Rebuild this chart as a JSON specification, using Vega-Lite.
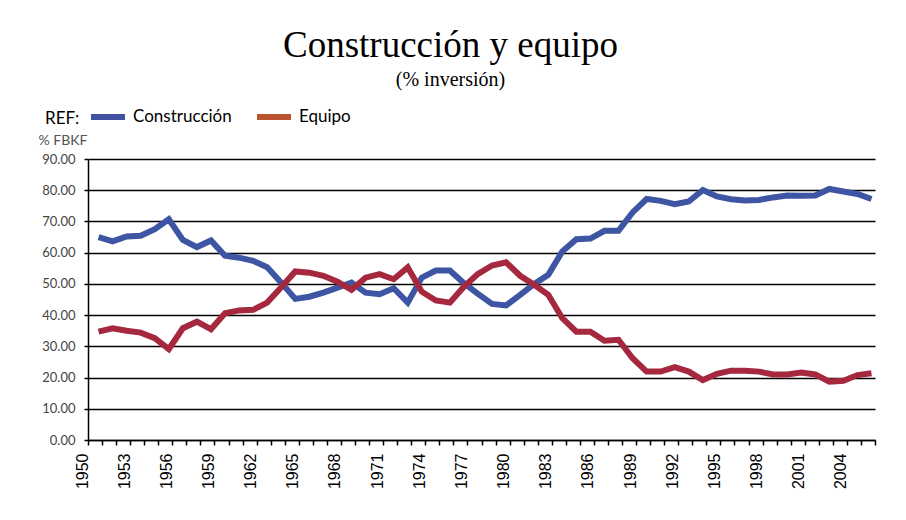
{
  "$schema": "https://vega.github.io/schema/vega-lite/v6.json",
  "width": 787,
  "height": 281,
  "autosize": {"type": "none"},
  "padding": {"left": 88, "top": 159, "right": 31, "bottom": 80},
  "background": "white",
  "title": {
    "text": "Construcción y equipo",
    "subtitle": "(% inversión)",
    "font": "Liberation Serif",
    "fontSize": 37,
    "fontWeight": "normal",
    "color": "#000",
    "subtitleFont": "Liberation Serif",
    "subtitleFontSize": 20,
    "subtitleColor": "#000",
    "subtitlePadding": 5,
    "anchor": "middle",
    "dx": -31,
    "offset": 9
  },
  "config": {"view": {"stroke": null}},
  "datasets": {
    "d": [
      {"anio":1950,"serie":"Construcción","valor":65.0},{"anio":1951,"serie":"Construcción","valor":63.6},{"anio":1952,"serie":"Construcción","valor":65.2},{"anio":1953,"serie":"Construcción","valor":65.4},{"anio":1954,"serie":"Construcción","valor":67.5},{"anio":1955,"serie":"Construcción","valor":70.7},{"anio":1956,"serie":"Construcción","valor":64.1},{"anio":1957,"serie":"Construcción","valor":61.8},{"anio":1958,"serie":"Construcción","valor":63.9},{"anio":1959,"serie":"Construcción","valor":59.0},
      {"anio":1960,"serie":"Construcción","valor":58.4},{"anio":1961,"serie":"Construcción","valor":57.4},{"anio":1962,"serie":"Construcción","valor":55.3},{"anio":1963,"serie":"Construcción","valor":50.4},{"anio":1964,"serie":"Construcción","valor":45.2},{"anio":1965,"serie":"Construcción","valor":45.9},{"anio":1966,"serie":"Construcción","valor":47.2},{"anio":1967,"serie":"Construcción","valor":48.8},{"anio":1968,"serie":"Construcción","valor":50.4},{"anio":1969,"serie":"Construcción","valor":47.2},
      {"anio":1970,"serie":"Construcción","valor":46.7},{"anio":1971,"serie":"Construcción","valor":48.6},{"anio":1972,"serie":"Construcción","valor":44.0},{"anio":1973,"serie":"Construcción","valor":52.0},{"anio":1974,"serie":"Construcción","valor":54.3},{"anio":1975,"serie":"Construcción","valor":54.3},{"anio":1976,"serie":"Construcción","valor":50.2},{"anio":1977,"serie":"Construcción","valor":46.8},{"anio":1978,"serie":"Construcción","valor":43.6},{"anio":1979,"serie":"Construcción","valor":43.1},
      {"anio":1980,"serie":"Construcción","valor":46.5},{"anio":1981,"serie":"Construcción","valor":50.0},{"anio":1982,"serie":"Construcción","valor":52.9},{"anio":1983,"serie":"Construcción","valor":60.4},{"anio":1984,"serie":"Construcción","valor":64.3},{"anio":1985,"serie":"Construcción","valor":64.5},{"anio":1986,"serie":"Construcción","valor":67.0},{"anio":1987,"serie":"Construcción","valor":67.0},{"anio":1988,"serie":"Construcción","valor":72.9},{"anio":1989,"serie":"Construcción","valor":77.2},
      {"anio":1990,"serie":"Construcción","valor":76.6},{"anio":1991,"serie":"Construcción","valor":75.5},{"anio":1992,"serie":"Construcción","valor":76.4},{"anio":1993,"serie":"Construcción","valor":80.1},{"anio":1994,"serie":"Construcción","valor":78.0},{"anio":1995,"serie":"Construcción","valor":77.1},{"anio":1996,"serie":"Construcción","valor":76.7},{"anio":1997,"serie":"Construcción","valor":76.9},{"anio":1998,"serie":"Construcción","valor":77.7},{"anio":1999,"serie":"Construcción","valor":78.3},
      {"anio":2000,"serie":"Construcción","valor":78.2},{"anio":2001,"serie":"Construcción","valor":78.3},{"anio":2002,"serie":"Construcción","valor":80.4},{"anio":2003,"serie":"Construcción","valor":79.6},{"anio":2004,"serie":"Construcción","valor":78.8},{"anio":2005,"serie":"Construcción","valor":77.2},
      {"anio":1950,"serie":"Equipo","valor":34.7},{"anio":1951,"serie":"Equipo","valor":35.8},{"anio":1952,"serie":"Equipo","valor":35.0},{"anio":1953,"serie":"Equipo","valor":34.4},{"anio":1954,"serie":"Equipo","valor":32.6},{"anio":1955,"serie":"Equipo","valor":29.1},{"anio":1956,"serie":"Equipo","valor":35.8},{"anio":1957,"serie":"Equipo","valor":37.9},{"anio":1958,"serie":"Equipo","valor":35.5},{"anio":1959,"serie":"Equipo","valor":40.6},
      {"anio":1960,"serie":"Equipo","valor":41.5},{"anio":1961,"serie":"Equipo","valor":41.7},{"anio":1962,"serie":"Equipo","valor":44.0},{"anio":1963,"serie":"Equipo","valor":48.9},{"anio":1964,"serie":"Equipo","valor":54.0},{"anio":1965,"serie":"Equipo","valor":53.6},{"anio":1966,"serie":"Equipo","valor":52.6},{"anio":1967,"serie":"Equipo","valor":50.7},{"anio":1968,"serie":"Equipo","valor":48.1},{"anio":1969,"serie":"Equipo","valor":52.0},
      {"anio":1970,"serie":"Equipo","valor":53.1},{"anio":1971,"serie":"Equipo","valor":51.5},{"anio":1972,"serie":"Equipo","valor":55.3},{"anio":1973,"serie":"Equipo","valor":47.5},{"anio":1974,"serie":"Equipo","valor":44.7},{"anio":1975,"serie":"Equipo","valor":44.0},{"anio":1976,"serie":"Equipo","valor":49.1},{"anio":1977,"serie":"Equipo","valor":53.2},{"anio":1978,"serie":"Equipo","valor":55.9},{"anio":1979,"serie":"Equipo","valor":56.9},
      {"anio":1980,"serie":"Equipo","valor":52.6},{"anio":1981,"serie":"Equipo","valor":49.7},{"anio":1982,"serie":"Equipo","valor":46.5},{"anio":1983,"serie":"Equipo","valor":39.0},{"anio":1984,"serie":"Equipo","valor":34.7},{"anio":1985,"serie":"Equipo","valor":34.7},{"anio":1986,"serie":"Equipo","valor":31.8},{"anio":1987,"serie":"Equipo","valor":32.1},{"anio":1988,"serie":"Equipo","valor":26.2},{"anio":1989,"serie":"Equipo","valor":21.9},
      {"anio":1990,"serie":"Equipo","valor":21.9},{"anio":1991,"serie":"Equipo","valor":23.3},{"anio":1992,"serie":"Equipo","valor":21.9},{"anio":1993,"serie":"Equipo","valor":19.2},{"anio":1994,"serie":"Equipo","valor":21.2},{"anio":1995,"serie":"Equipo","valor":22.2},{"anio":1996,"serie":"Equipo","valor":22.2},{"anio":1997,"serie":"Equipo","valor":21.9},{"anio":1998,"serie":"Equipo","valor":21.0},{"anio":1999,"serie":"Equipo","valor":21.0},
      {"anio":2000,"serie":"Equipo","valor":21.6},{"anio":2001,"serie":"Equipo","valor":21.0},{"anio":2002,"serie":"Equipo","valor":18.7},{"anio":2003,"serie":"Equipo","valor":19.0},{"anio":2004,"serie":"Equipo","valor":20.8},{"anio":2005,"serie":"Equipo","valor":21.4}
    ]
  },
  "data": {"name": "d"},
  "mark": {"type": "line", "strokeWidth": 6, "strokeJoin": "miter", "strokeCap": "butt"},
  "encoding": {
    "x": {
      "field": "anio",
      "type": "quantitative",
      "scale": {"domain": [1949.25, 2005.25], "nice": false, "zero": false},
      "axis": {
        "values": [1949.25,1950.25,1951.25,1952.25,1953.25,1954.25,1955.25,1956.25,1957.25,1958.25,1959.25,1960.25,1961.25,1962.25,1963.25,1964.25,1965.25,1966.25,1967.25,1968.25,1969.25,1970.25,1971.25,1972.25,1973.25,1974.25,1975.25,1976.25,1977.25,1978.25,1979.25,1980.25,1981.25,1982.25,1983.25,1984.25,1985.25,1986.25,1987.25,1988.25,1989.25,1990.25,1991.25,1992.25,1993.25,1994.25,1995.25,1996.25,1997.25,1998.25,1999.25,2000.25,2001.25,2002.25,2003.25,2004.25,2005.25],
        "labelExpr": "(round(datum.value - 1949.25) % 3 == 0 && datum.value < 2005) ? toString(round(datum.value + 0.75)) : ''",
        "labelOverlap": false,
        "labelFlush": false,
        "labelAngle": -90,
        "labelFont": "Liberation Sans",
        "labelFontSize": 16,
        "labelColor": "#000",
        "labelPadding": 8,
        "labelOffset": -6,
        "tickColor": "#000",
        "tickSize": 5,
        "tickWidth": 1.5,
        "domainColor": "#000",
        "domainWidth": 1.5,
        "grid": false,
        "title": null
      }
    },
    "y": {
      "field": "valor",
      "type": "quantitative",
      "scale": {"domain": [0, 90], "nice": false},
      "axis": {
        "values": [0,10,20,30,40,50,60,70,80,90],
        "format": ".2f",
        "labelFont": "Lato",
        "labelFontSize": 13,
        "labelColor": "#444",
        "labelPadding": 9,
        "tickSize": 4,
        "tickColor": "#000",
        "tickWidth": 1.5,
        "domainColor": "#000",
        "domainWidth": 1.5,
        "grid": true,
        "gridColor": "#000",
        "gridWidth": 1.5,
        "title": "% FBKF",
        "titleAngle": 0,
        "titleAlign": "left",
        "titleBaseline": "middle",
        "titleX": -50,
        "titleY": -19,
        "titleFont": "Lato",
        "titleFontSize": 14,
        "titleFontWeight": "normal",
        "titleColor": "#555"
      }
    },
    "color": {
      "field": "serie",
      "type": "nominal",
      "scale": {"domain": ["Construcción", "Equipo"], "range": ["#3d55a3", "#a5283f"]},
      "legend": {
        "orient": "none",
        "legendX": -43,
        "legendY": -59,
        "direction": "horizontal",
        "title": "REF:",
        "titleOrient": "left",
        "titleFont": "Lato",
        "titleFontSize": 17,
        "titleFontWeight": "normal",
        "titleColor": "#000",
        "titlePadding": 11,
        "titleBaseline": "line-top",
        "titleLineHeight": 12,
        "labelFont": "Lato",
        "labelFontSize": 17,
        "labelColor": "#000",
        "labelOffset": 8,
        "columnPadding": 25,
        "symbolType": "M-1,-0.18L1,-0.18L1,0.18L-1,0.18Z",
        "symbolSize": 1156,
        "symbolStrokeWidth": 0,
        "encode": {
          "symbols": {
            "update": {
              "fill": {"signal": "datum.value === 'Equipo' ? '#b9532f' : '#3f51a0'"},
              "stroke": {"value": "transparent"}
            }
          }
        }
      }
    }
  }
}
